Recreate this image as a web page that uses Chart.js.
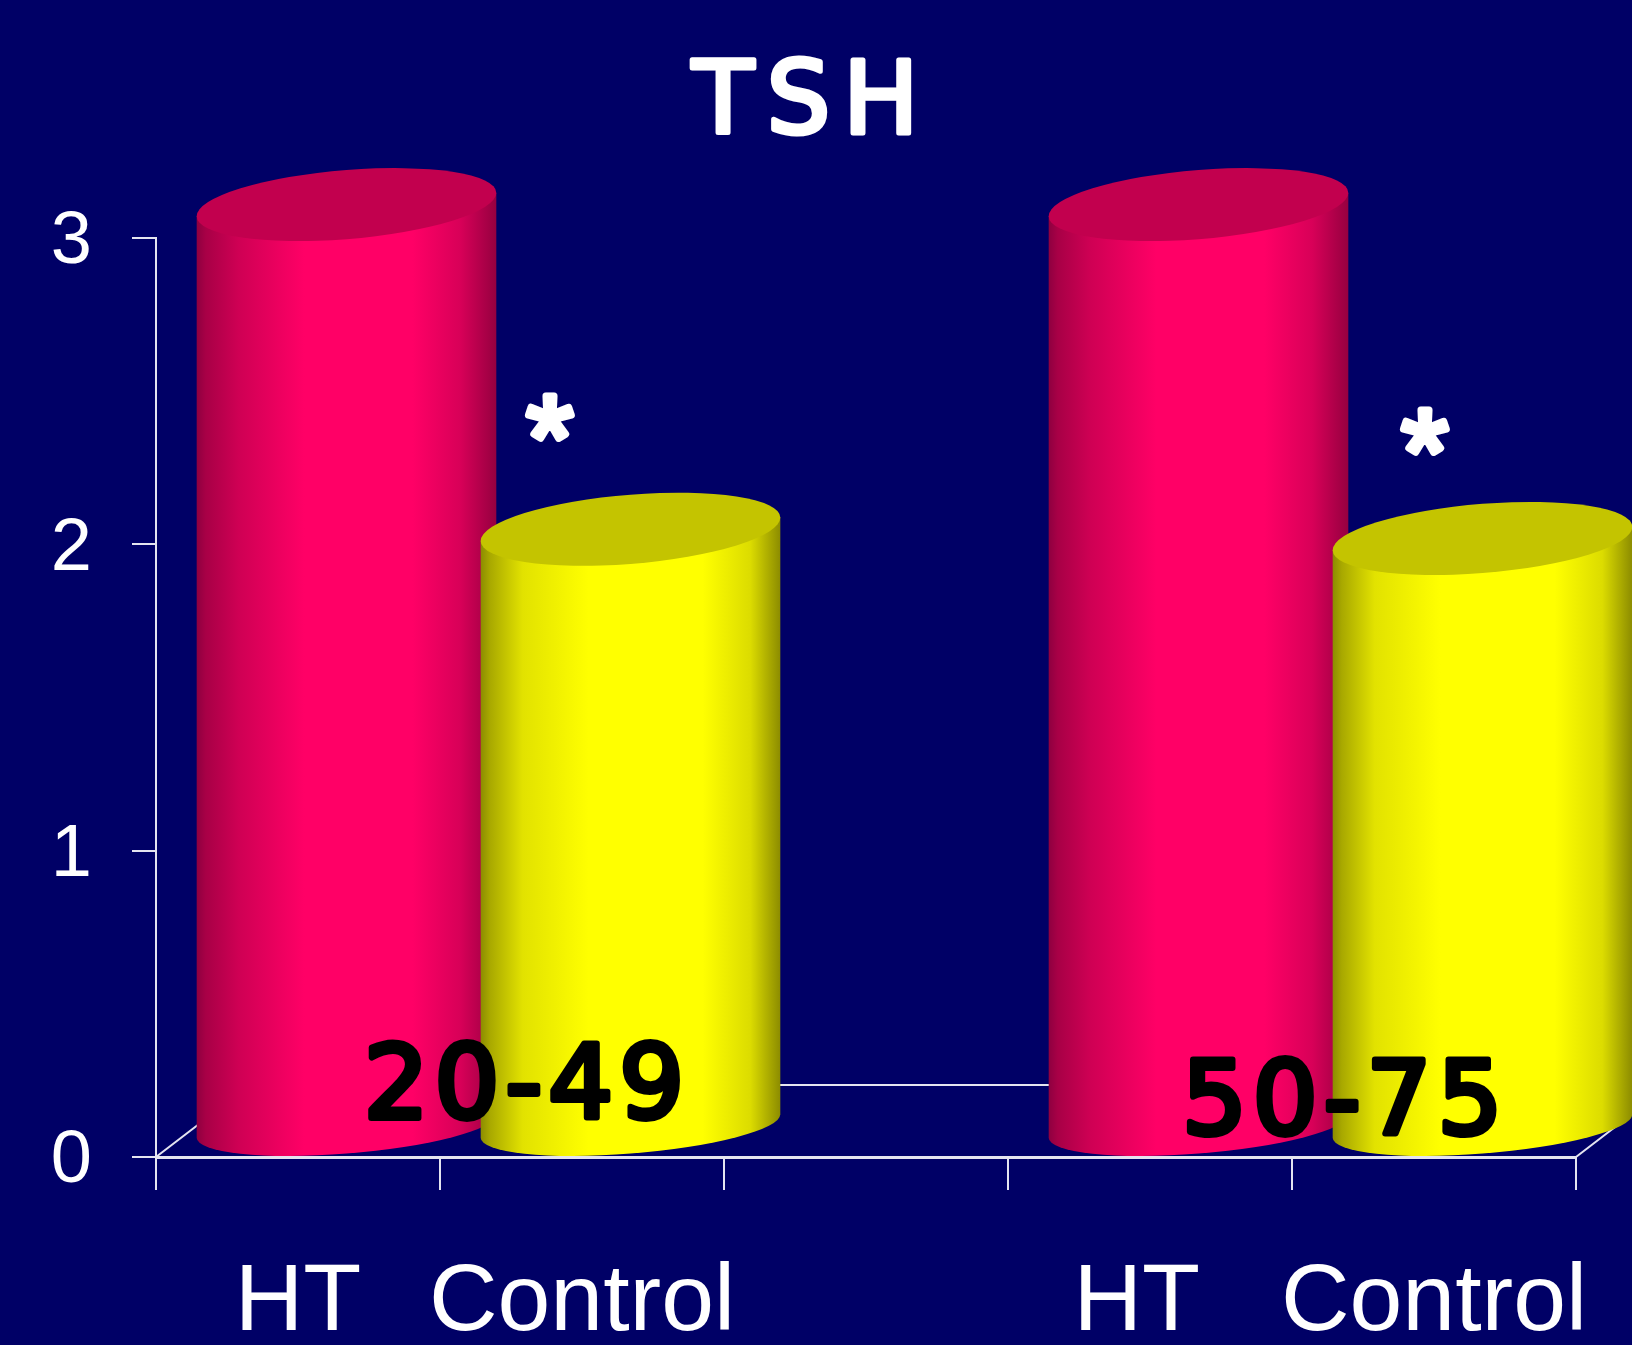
<!DOCTYPE html>
<html><head><meta charset="utf-8">
<style>html,body{margin:0;padding:0;background:#000066}canvas{display:block}</style>
<script src="https://cdn.jsdelivr.net/npm/chart.js@4/dist/chart.umd.js"></script>
</head><body><canvas id="c" width="1632" height="1345"></canvas>
<script>
const titleText = "TSH";
const categories = ["HT", "Control", "", "HT", "Control"];
const htValues = [2.99, null, null, 2.99, null];
const controlValues = [null, 1.93, null, null, 1.90];
const yTicks = [0, 1, 2, 3];
const rangeLabels = ["20-49", "50-75"];
const rangeCats = [0.806, 3.687];
const rangeVals = [0.215, 0.163];
const starLabel = "*";
const starCats = [0.887, 3.968];
const starVals = [2.322, 2.276];

const BG = "#000066", LINE = "#e4e4f0";
const DEPTH_X = 48.5, DEPTH_Y = 36.5, SHEAR = -0.078, ELL_B = 34.6;
const FOOT_DROP = 6.5, FOOT_B = 27.6;
const FLOOR_X = 94, FLOOR_Y = 72;
const skins = [
  {top:"#c2004e", stops:[[0,"#8e0040"],[0.03,"#a80046"],[0.14,"#cf0054"],[0.36,"#ff0066"],[0.72,"#ff0066"],[0.88,"#d80058"],[1,"#960040"]]},
  {top:"#c4c400", stops:[[0,"#8c8c00"],[0.03,"#a8a800"],[0.14,"#e2e200"],[0.36,"#ffff00"],[0.74,"#ffff00"],[0.9,"#dcdc00"],[1,"#8c8c00"]]}
];

function cylinder(ctx, el, skin){
  const a = el.width/2, cx = el.x + DEPTH_X, top = el.y - DEPTH_Y, h = el.base - el.y + FOOT_DROP;
  ctx.save();
  ctx.translate(cx, top);
  ctx.transform(1, SHEAR, 0, 1, 0, 0);
  const g = ctx.createLinearGradient(-a, 0, a, 0);
  skin.stops.forEach(s => g.addColorStop(s[0], s[1]));
  ctx.beginPath();
  ctx.moveTo(-a, 0);
  ctx.lineTo(-a, h);
  ctx.ellipse(0, h, a, FOOT_B, 0, Math.PI, 0, true);
  ctx.lineTo(a, 0);
  ctx.closePath();
  ctx.fillStyle = g;
  ctx.fill();
  ctx.beginPath();
  ctx.ellipse(0, 0, a, ELL_B, 0, 0, Math.PI*2);
  ctx.fillStyle = skin.top;
  ctx.fill();
  ctx.restore();
}

function label(ctx, text, x, y, font, color, sw, spacing){
  ctx.save();
  ctx.font = font;
  ctx.letterSpacing = spacing + "px";
  ctx.textAlign = "center";
  ctx.textBaseline = "middle";
  ctx.lineJoin = "round";
  ctx.lineCap = "round";
  ctx.lineWidth = sw;
  ctx.strokeStyle = color;
  ctx.fillStyle = color;
  ctx.strokeText(text, x, y);
  ctx.fillText(text, x, y);
  ctx.restore();
}

const scene = {
  id: "scene",
  beforeDraw(chart){
    const c = chart.ctx;
    c.save(); c.fillStyle = BG; c.fillRect(0, 0, chart.width, chart.height); c.restore();
  },
  beforeDatasetsDraw(chart){
    const c = chart.ctx, a = chart.chartArea, b = a.bottom;
    c.save();
    c.strokeStyle = LINE; c.lineWidth = 2;
    c.beginPath();
    c.moveTo(a.left, b); c.lineTo(a.left + FLOOR_X, b - FLOOR_Y);
    c.lineTo(a.right + FLOOR_X, b - FLOOR_Y); c.lineTo(a.right, b);
    c.stroke();
    c.restore();
  },
  beforeDatasetDraw(chart, args){
    const meta = args.meta, values = chart.data.datasets[args.index].data;
    meta.data.forEach((el, i) => { if (values[i] !== null) cylinder(chart.ctx, el, skins[args.index]); });
    return false;
  },
  afterDraw(chart){
    const c = chart.ctx, xs = chart.scales.x, ys = chart.scales.y;
    label(c, titleText, 812, 107, "100px 'DejaVu Sans'", "#ffffff", 5, 13);
    rangeLabels.forEach((t, i) => label(c, t, xs.getPixelForValue(rangeCats[i]), ys.getPixelForValue(rangeVals[i]), "102px 'DejaVu Sans'", "#000000", 6, 6));
    starCats.forEach((v, i) => label(c, starLabel, xs.getPixelForValue(v), ys.getPixelForValue(starVals[i]), "120px 'Liberation Sans'", "#ffffff", 7, 0));
  }
};

new Chart(document.getElementById("c"), {
  type: "bar",
  data: {
    labels: categories,
    datasets: [
      {label: "HT", data: htValues, backgroundColor: "#ff0066", order: 1},
      {label: "Control", data: controlValues, backgroundColor: "#ffff00", order: 0}
    ]
  },
  options: {
    responsive: false,
    animation: false,
    events: [],
    layout: {padding: {left: 0, top: 238, right: 56, bottom: 0}},
    barPercentage: 1.055,
    categoryPercentage: 1,
    plugins: {legend: {display: false}, tooltip: {enabled: false}, title: {display: false}},
    scales: {
      x: {
        stacked: true,
        afterFit(s){ s.height = 188; s.paddingLeft = 0; s.paddingRight = 0; },
        grid: {drawOnChartArea: false, color: LINE, lineWidth: 2, tickLength: 33, z: 1},
        border: {color: LINE, width: 3, z: 1},
        ticks: {
          color: "#ffffff", font: {family: "'Liberation Sans'", size: 95}, padding: 57,
          maxRotation: 0, minRotation: 0, autoSkip: false,
          callback(v, i){ const t = categories[i]; return i === 3 ? t + " " : t; }
        }
      },
      y: {
        stacked: false,
        min: 0, max: 3,
        afterFit(s){ s.width = 156; },
        afterBuildTicks(s){ s.ticks = yTicks.map(v => ({value: v})); },
        grid: {drawOnChartArea: false, color: LINE, lineWidth: 2, tickLength: 24},
        border: {color: LINE, width: 2},
        ticks: {color: "#ffffff", font: {family: "'Liberation Sans'", size: 74}, padding: 40, labelOffset: 5}
      }
    }
  },
  plugins: [scene]
});
</script></body></html>
